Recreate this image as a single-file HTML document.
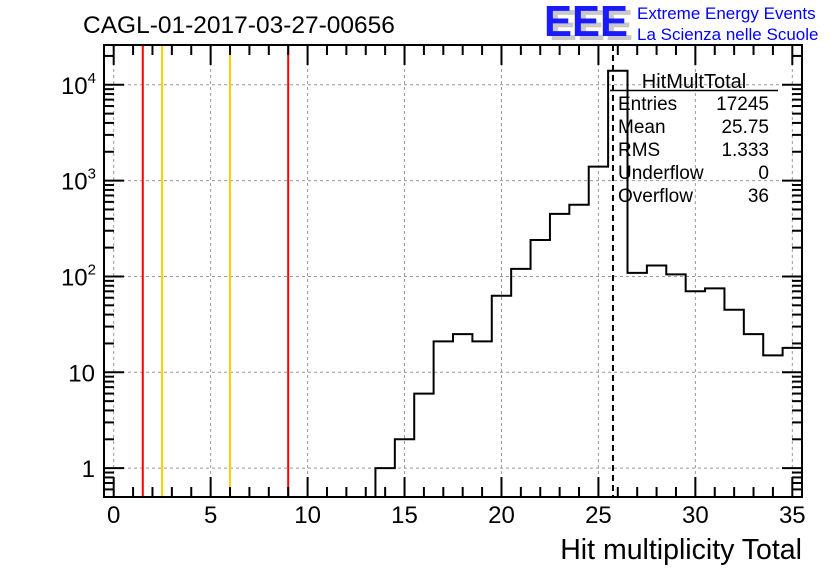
<!DOCTYPE html>
<html><head><meta charset="utf-8"><style>
html,body{margin:0;padding:0;background:#fff;}
svg{display:block;font-family:"Liberation Sans",Arial,sans-serif;}
</style></head><body>
<svg id="c" width="836" height="572" viewBox="0 0 836 572" xmlns="http://www.w3.org/2000/svg">
<rect width="836" height="572" fill="#fff"/>
<text x="83" y="33" font-size="24.5" fill="#000">CAGL-01-2017-03-27-00656</text>
<g>
<text x="549" y="40" font-size="44" font-weight="bold" fill="#c8c8c8" textLength="84" lengthAdjust="spacingAndGlyphs">EEE</text>
<text x="544" y="36" font-size="44" font-weight="bold" fill="#1a1aff" textLength="84" lengthAdjust="spacingAndGlyphs">EEE</text>
<text x="637" y="19" font-size="17" fill="#0000ff">Extreme Energy Events</text>
<text x="637" y="40" font-size="17" fill="#0000ff">La Scienza nelle Scuole</text>
</g>
<g id="grid"></g>
<g id="marks"></g>
<g id="axes"></g>
<g font-size="19" fill="#000">
<text x="694" y="88" font-size="20" text-anchor="middle">HitMultTotal</text>
<line x1="610" y1="90.5" x2="778" y2="90.5" stroke="#000" stroke-width="1.5"/>
<text x="618" y="110">Entries</text><text x="769" y="110" text-anchor="end">17245</text>
<text x="618" y="133">Mean</text><text x="769" y="133" text-anchor="end">25.75</text>
<text x="618" y="156">RMS</text><text x="769" y="156" text-anchor="end">1.333</text>
<text x="618" y="179">Underflow</text><text x="769" y="179" text-anchor="end">0</text>
<text x="618" y="202">Overflow</text><text x="769" y="202" text-anchor="end">36</text>
</g>
<text x="802" y="559" font-size="28.5" text-anchor="end">Hit multiplicity Total</text>
</svg>
<script>
const binCenters = [14,15,16,17,18,19,20,21,22,23,24,25,26,27,28,29,30,31,32,33,34,35];
const binCounts = [1,2,6,21,25,21,63,120,240,450,560,1400,14000,109,130,105,70,75,45,25,15,18];
const xTicks = [0,5,10,15,20,25,30,35];
const yTickValues = [1,10,100,1000,10000];
const yTickLabels = ["1","10","10^2","10^3","10^4"];
const redCuts = [1.5,9];
const yellowCuts = [2.5,6];
const meanValue = [25.75];

const NS="http://www.w3.org/2000/svg";
const L=104,R=802,T=45,B=497;
const xMin=-0.5,xMax=35.5,yMin=Math.log10(0.5),yMax=Math.log10(26000);
const X=v=>L+(v-xMin)/(xMax-xMin)*(R-L);
const Y=v=>B-(Math.log10(v)-yMin)/(yMax-yMin)*(B-T);
function mk(tag,attrs,parent){const e=document.createElementNS(NS,tag);for(const k in attrs)e.setAttribute(k,attrs[k]);parent.appendChild(e);return e;}
const grid=document.getElementById('grid'),marks=document.getElementById('marks'),axes=document.getElementById('axes');

xTicks.forEach(t=>{const g=mk('line',{x1:X(t),x2:X(t),y1:T,y2:B,stroke:'#999','stroke-dasharray':'3,3','stroke-width':1},grid);

});
yTickValues.forEach(t=>{const g=mk('line',{x1:L,x2:R,y1:Y(t),y2:Y(t),stroke:'#999','stroke-dasharray':'3,3','stroke-width':1},grid);

});

redCuts.forEach(v=>{const l=mk('line',{x1:X(v),x2:X(v),y1:T,y2:B,stroke:'#ff0000','stroke-width':2},marks);

});
yellowCuts.forEach(v=>{const l=mk('line',{x1:X(v),x2:X(v),y1:T,y2:B,stroke:'#ffcc00','stroke-width':2},marks);

});

let d='';
binCenters.forEach((c,i)=>{const x0=X(c-0.5),x1=X(Math.min(c+0.5,xMax)),y=Y(binCounts[i]);
const prev=i>0?Y(binCounts[i-1]):B;
d+=(i===0?`M${x0},${B}`:'')+`L${x0},${prev}L${x0},${y}L${x1},${y}`;});
const h=mk('path',{d:d,fill:'none',stroke:'#000','stroke-width':2},marks);



meanValue.forEach(v=>{const m=mk('line',{x1:X(v),x2:X(v),y1:T,y2:B,stroke:'#000','stroke-width':2,'stroke-dasharray':'6,4'},marks);

});

const fr=mk('rect',{x:L,y:T,width:R-L,height:B-T,fill:'none',stroke:'#000','stroke-width':2},axes);


for(let v=0;v<=35;v++){const len=v%5===0?20:10;
mk('line',{x1:X(v),x2:X(v),y1:B,y2:B-len,stroke:'#000','stroke-width':2},axes);
mk('line',{x1:X(v),x2:X(v),y1:T,y2:T+len,stroke:'#000','stroke-width':2},axes);}
for(let e=-1;e<=4;e++){for(let m=1;m<=9;m++){const v=m*Math.pow(10,e);if(v<0.5||v>26000)continue;const len=m===1?20:10;
mk('line',{x1:L,x2:L+len,y1:Y(v),y2:Y(v),stroke:'#000','stroke-width':2},axes);
mk('line',{x1:R,x2:R-len,y1:Y(v),y2:Y(v),stroke:'#000','stroke-width':2},axes);}}
xTicks.forEach(t=>{const tx=mk('text',{x:X(t),y:523,'font-size':24,'text-anchor':'middle'},axes);tx.textContent=t;

});
yTickValues.forEach((t,i)=>{const lab=yTickLabels[i];const tx=mk('text',{x:95,y:Y(t)+9,'font-size':24,'text-anchor':'end'},axes);
if(lab.includes('^')){const [b,p]=lab.split('^');tx.textContent=b;const s=mk('tspan',{'font-size':15,dy:-11},tx);s.textContent=p;tx.setAttribute('x',96);}
else tx.textContent=lab;

});
</script>
</body></html>
